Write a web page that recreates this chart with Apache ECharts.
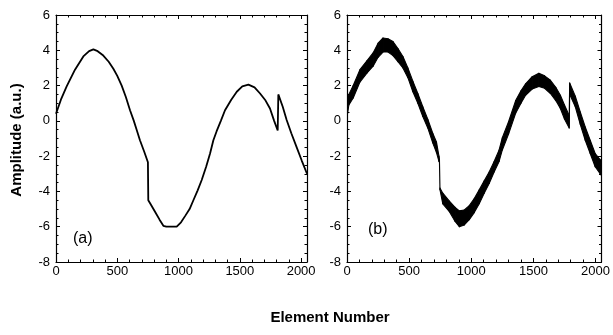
<!DOCTYPE html>
<html>
<head>
<meta charset="utf-8">
<script src="https://cdn.jsdelivr.net/npm/echarts@6/dist/echarts.min.js"></script>
<style>
html,body{margin:0;padding:0;background:#fff;}
#chart{width:613px;height:335px;}
</style>
</head>
<body>
<div id="chart"></div>
<script>
// ---- Data ----
const xMajorTicks = [0, 500, 1000, 1500, 2000];
const xMinorTicks = [0,100,200,300,400,500,600,700,800,900,1000,1100,1200,1300,1400,1500,1600,1700,1800,1900,2000];
const yTickInfo = { min: -8, max: 6, interval: 2 };

// Panel (a): element number, amplitude
const aX = [0,40,87,155,223,270,305,340,386,430,468,500,536,570,604,635,658,685,720,750,753,770,808,845,876,900,985,1020,1053,1090,1121,1155,1189,1225,1257,1284,1310,1345,1379,1430,1475,1520,1570,1620,1665,1710,1746,1780,1809,1814,1850,1882,1920,1964,2005,2048];
const aY = [0.4,1.2,1.95,2.9,3.65,3.95,4.05,3.95,3.7,3.35,2.95,2.55,2.0,1.35,0.6,0.0,-0.5,-1.1,-1.75,-2.35,-4.5,-4.7,-5.15,-5.6,-5.95,-6.0,-6.0,-5.75,-5.4,-5.0,-4.5,-3.95,-3.35,-2.6,-1.85,-1.1,-0.6,0.0,0.6,1.2,1.65,1.95,2.05,1.9,1.55,1.15,0.7,0.0,-0.55,1.5,0.8,0.05,-0.7,-1.5,-2.25,-3.0];

// Panel (b): noisy band, lower and upper envelope
const bX = [0,15,50,104,160,210,250,290,330,370,410,450,490,530,570,610,650,690,720,740,744,748,771,824,870,904,944,984,1024,1064,1104,1144,1184,1224,1250,1300,1357,1400,1437,1490,1544,1590,1637,1680,1717,1750,1788,1792,1837,1877,1917,1957,1997,2037,2048];
const bLow = [0.2,0.9,1.3,2.2,2.7,3.1,3.6,3.9,3.9,3.7,3.35,3.0,2.45,1.65,1.0,0.25,-0.4,-1.25,-1.8,-2.3,-2.35,-3.9,-4.7,-5.15,-5.7,-6.0,-5.9,-5.6,-5.2,-4.7,-4.1,-3.55,-2.9,-2.3,-1.65,-0.75,0.43,1.0,1.45,1.8,1.95,1.85,1.55,1.15,0.7,0.1,-0.4,1.5,0.8,-0.2,-1.1,-1.85,-2.6,-3.0,-3.1];
const bHigh = [0.8,1.5,2.0,2.9,3.4,3.85,4.4,4.7,4.65,4.5,4.1,3.65,3.0,2.25,1.55,0.8,0.1,-0.7,-1.2,-2.0,-2.2,-3.8,-4.1,-4.55,-4.9,-5.1,-5.05,-4.8,-4.4,-3.9,-3.4,-2.9,-2.3,-1.65,-0.95,-0.05,1.15,1.7,2.1,2.5,2.7,2.55,2.3,1.9,1.45,0.9,0.3,2.15,1.4,0.5,-0.35,-1.1,-1.85,-2.2,-2.3];

const panelLabels = ['(a)', '(b)'];
const xTitle = 'Element Number';
const yTitle = 'Amplitude (a.u.)';

// ---- Chart ----
const FONT = 'Liberation Sans, Arial, Helvetica, sans-serif';
const grids = [
  { left: 56, top: 15, width: 251, height: 247 },
  { left: 347, top: 15, width: 256, height: 247 }
];

function xAxes(gi) {
  const base = { type: 'value', gridIndex: gi, min: 0, max: 2048, splitLine: { show: false }, offset: 0 };
  const line = { show: true, onZero: false, lineStyle: { color: '#000', width: 1.2 } };
  const tickLine = { color: '#000', width: 1 };
  return [
    Object.assign({}, base, { position: 'bottom', axisLine: line,
      axisTick: { show: true, inside: true, length: 4, customValues: xMajorTicks, lineStyle: tickLine },
      axisLabel: { show: true, customValues: xMajorTicks, formatter: v => String(v), color: '#000', fontFamily: FONT, fontSize: 13, margin: 3 } }),
    Object.assign({}, base, { position: 'bottom', axisLine: { show: false, onZero: false },
      axisTick: { show: true, inside: true, length: 2.5, customValues: xMinorTicks, lineStyle: tickLine },
      axisLabel: { show: false } }),
    Object.assign({}, base, { position: 'top', axisLine: line,
      axisTick: { show: true, inside: true, length: 4, customValues: xMajorTicks, lineStyle: tickLine },
      axisLabel: { show: false } }),
    Object.assign({}, base, { position: 'top', axisLine: { show: false, onZero: false },
      axisTick: { show: true, inside: true, length: 2.5, customValues: xMinorTicks, lineStyle: tickLine },
      axisLabel: { show: false } })
  ];
}
function yAxes(gi) {
  const base = { type: 'value', gridIndex: gi, min: yTickInfo.min, max: yTickInfo.max, interval: yTickInfo.interval,
    splitLine: { show: false }, offset: 0,
    axisLine: { show: true, onZero: false, lineStyle: { color: '#000', width: 1.2 } },
    axisTick: { show: true, inside: true, length: 4, lineStyle: { color: '#000', width: 1 } },
    minorTick: { show: true, splitNumber: 4, length: 2.5, lineStyle: { color: '#000', width: 1 } },
    minorSplitLine: { show: false } };
  return [
    Object.assign({}, base, { position: 'left',
      axisLabel: { show: true, color: '#000', fontFamily: FONT, fontSize: 13, margin: 6 } }),
    Object.assign({}, base, { position: 'right', axisLabel: { show: false } })
  ];
}

const xAxisList = xAxes(0).concat(xAxes(1));
const yAxisList = yAxes(0).concat(yAxes(1));

const aData = aX.map((x, i) => [x, aY[i]]);
const bData = bX.map((x, i) => [x, bLow[i], bHigh[i]]);

function renderBand(params, api) {
  const i = params.dataIndexInside;
  if (i >= params.dataInsideLength - 1) return null;
  const x0 = api.value(0, i), l0 = api.value(1, i), h0 = api.value(2, i);
  const x1 = api.value(0, i + 1), l1 = api.value(1, i + 1), h1 = api.value(2, i + 1);
  const pts = [api.coord([x0, l0]), api.coord([x1, l1]), api.coord([x1, h1]), api.coord([x0, h0])];
  return {
    type: 'polygon',
    shape: { points: pts },
    style: { fill: '#000', stroke: '#000', lineWidth: 1.1, lineJoin: 'round' }
  };
}

const option = {
  animation: false,
  backgroundColor: '#fff',
  grid: grids,
  xAxis: xAxisList,
  yAxis: yAxisList,
  series: [
    { type: 'line', xAxisIndex: 0, yAxisIndex: 0, data: aData, symbol: 'none',
      lineStyle: { color: '#000', width: 1.8 } },
    { type: 'custom', xAxisIndex: 4, yAxisIndex: 2, data: bData,
      encode: { x: 0, y: [1, 2] }, renderItem: renderBand, clip: true }
  ],
  graphic: [
    { type: 'text', left: 73, top: 231, style: { text: panelLabels[0], font: '16px ' + FONT, fill: '#000' } },
    { type: 'text', left: 368, top: 222, style: { text: panelLabels[1], font: '16px ' + FONT, fill: '#000' } },
    { type: 'text', x: 330, y: 318, style: { text: xTitle, font: 'bold 15px ' + FONT, fill: '#000', align: 'center', verticalAlign: 'middle' } },
    { type: 'text', x: 17, y: 140, rotation: Math.PI / 2, style: { text: yTitle, font: 'bold 15px ' + FONT, fill: '#000', align: 'center', verticalAlign: 'middle' } }
  ]
};

const chart = echarts.init(document.getElementById('chart'), null, { renderer: 'canvas' });
chart.setOption(option);
</script>
</body>
</html>
